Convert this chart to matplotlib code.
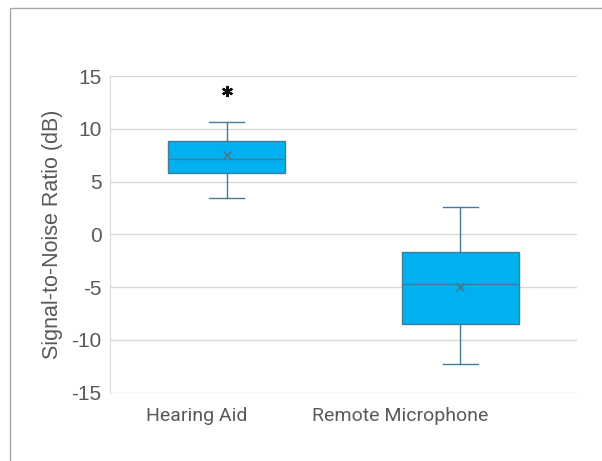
import matplotlib.pyplot as plt
from matplotlib.patches import Rectangle
from matplotlib.transforms import ScaledTranslation

# data
categories = ["Hearing Aid", "Remote Microphone"]
whisker_low = [3.4, -12.25]
q1 = [5.85, -8.45]
medians = [7.1, -4.7]
q3 = [8.85, -1.7]
whisker_high = [10.6, 2.55]
means = [7.5, -5.0]
outliers = [[13.6], []]
y_ticks = [-15, -10, -5, 0, 5, 10, 15]

plt.rcParams['font.family'] = ['Liberation Sans', 'DejaVu Sans']
plt.rcParams['axes.unicode_minus'] = False

fig = plt.figure(figsize=(6.02, 4.61), dpi=100)
ax = fig.add_axes([0.1827, 0.1482, 0.7758, 0.6869])

stats = []
for i, name in enumerate(categories):
    stats.append({
        'label': name,
        'whislo': whisker_low[i],
        'q1': q1[i],
        'med': medians[i],
        'q3': q3[i],
        'whishi': whisker_high[i],
        'mean': means[i],
        'fliers': outliers[i],
    })

edge = '#3F7F99'
ax.bxp(stats, positions=[1, 2], widths=0.5, patch_artist=True,
       showmeans=True, showfliers=True,
       boxprops=dict(facecolor='#00B0F0', edgecolor=edge, linewidth=1.0),
       medianprops=dict(color=edge, linewidth=1.0),
       whiskerprops=dict(color=edge, linewidth=1.0),
       capprops=dict(color=edge, linewidth=1.0),
       capwidths=0.15,
       meanprops=dict(marker='x', markeredgecolor='#4A6F80', markersize=5.5,
                      markeredgewidth=0.9),
       flierprops=dict(marker=(6, 2, 0), markerfacecolor='#111111',
                       markeredgecolor='#111111', markersize=8,
                       markeredgewidth=1.6))

ax.set_xlim(0.5, 2.5)
ax.set_ylim(-15, 15)
ax.set_yticks(y_ticks)
ax.set_yticklabels([str(v) for v in y_ticks])
ax.yaxis.grid(True, color='#D9D9D9', linewidth=1.0)
ax.set_axisbelow(True)
for s in ['top', 'right', 'bottom']:
    ax.spines[s].set_visible(False)
ax.spines['left'].set_color('#D9D9D9')
ax.tick_params(axis='both', length=0, labelsize=15, colors='#595959')
ax.tick_params(axis='y', pad=6)
ax.tick_params(axis='x', pad=10)
ax.set_xticklabels(categories, family=['Roboto', 'DejaVu Sans'], fontsize=14)
# category labels sit left of the box centres in the original
for lab, dx in zip(ax.get_xticklabels(), [-30, -60]):
    lab.set_transform(lab.get_transform() + ScaledTranslation(dx / 100, 0, fig.dpi_scale_trans))

ax.set_ylabel('Signal-to-Noise Ratio (dB)', fontsize=15.5, color='#595959')
ax.yaxis.set_label_coords(-0.1006, 0.5)

# chart border
fig.patches.append(Rectangle((10 / 602, -0.05), 1.0, 1 - 7.5 / 461 + 0.05,
                             transform=fig.transFigure, fill=False,
                             edgecolor='#A6A6A6', linewidth=1.0))

fig.savefig('out.png', dpi=100)
